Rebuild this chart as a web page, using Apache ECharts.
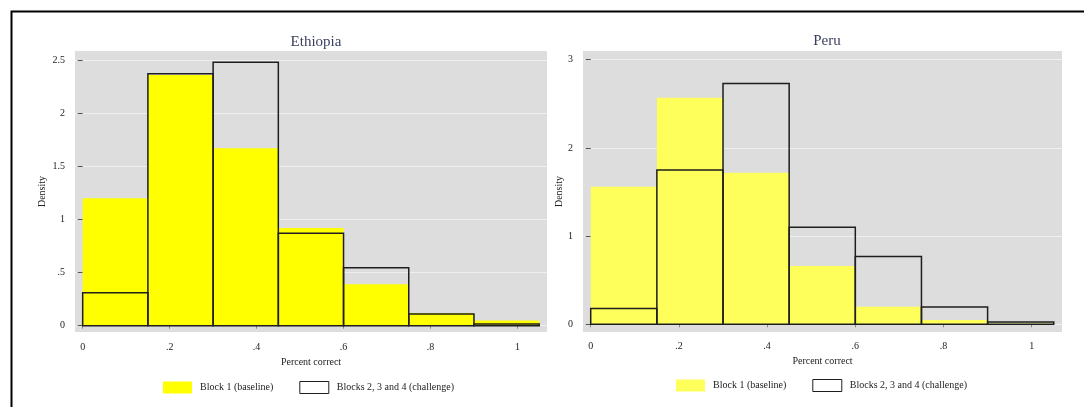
<!DOCTYPE html>
<html>
<head>
<meta charset="utf-8">
<script src="https://cdn.jsdelivr.net/npm/echarts@6/dist/echarts.min.js"></script>
<style>
html,body{margin:0;padding:0;background:#fff;}
#chart{width:1084px;height:407px;}
</style>
</head>
<body>
<div id="chart"></div>
<script>
// ---- data ----
const binEdges = [0, 0.15, 0.30, 0.45, 0.60, 0.75, 0.90, 1.05];
const panelTitles = ['Ethiopia', 'Peru'];
const seriesNames = ['Block 1 (baseline)', 'Blocks 2, 3 and 4 (challenge)'];
const xTickValues = [0, 0.2, 0.4, 0.6, 0.8, 1];
const xTickLabels = ['0', '.2', '.4', '.6', '.8', '1'];
const ethiopiaYTicks = [0, 0.5, 1, 1.5, 2, 2.5];
const ethiopiaYLabels = ['0', '.5', '1', '1.5', '2', '2.5'];
const peruYTicks = [0, 1, 2, 3];
const peruYLabels = ['0', '1', '2', '3'];
const ethiopiaBaseline = [1.20, 2.36, 1.67, 0.92, 0.39, 0.12, 0.05];
const ethiopiaChallenge = [0.31, 2.37, 2.48, 0.87, 0.545, 0.11, 0.016];
const peruBaseline = [1.56, 2.57, 1.72, 0.66, 0.20, 0.05, 0.01];
const peruChallenge = [0.18, 1.75, 2.73, 1.10, 0.77, 0.196, 0.026];

// ---- styles ----
const FONT = "'Liberation Serif', 'DejaVu Serif', serif";
const YELLOW_E = '#ffff00';
const YELLOW_P = '#ffff5c';
const BG = '#dddddd';

function bins(values) {
  return values.map((v, i) => [binEdges[i], binEdges[i + 1], v]);
}
function hist(name, gi, values, fill, outline) {
  return {
    name: name, type: 'custom', xAxisIndex: gi, yAxisIndex: gi,
    data: bins(values), encode: { x: [0, 1], y: 2 },
    itemStyle: { color: outline ? 'none' : fill },
    z: outline ? 3 : 2,
    renderItem: function (params, api) {
      const p0 = api.coord([api.value(0), api.value(2)]);
      const p1 = api.coord([api.value(1), 0]);
      return {
        type: 'rect',
        shape: { x: p0[0], y: p0[1], width: p1[0] - p0[0], height: p1[1] - p0[1] },
        style: outline
          ? { fill: 'none', stroke: '#1e1e1e', lineWidth: 1.5 }
          : { fill: fill }
      };
    }
  };
}
function xAxis(gi, min, max, labelMargin, nameGap) {
  return {
    type: 'value', gridIndex: gi, min: min, max: max, offset: 2,
    name: 'Percent correct', nameLocation: 'middle', nameGap: nameGap,
    nameTextStyle: { fontFamily: FONT, fontSize: 10, color: '#222' },
    axisLine: { show: false },
    axisTick: { show: true, length: 3, customValues: xTickValues, lineStyle: { color: '#888' } },
    axisLabel: {
      customValues: xTickValues, margin: labelMargin, fontFamily: FONT, fontSize: 10, color: '#222',
      formatter: v => xTickLabels[xTickValues.indexOf(+v.toFixed(2))] ?? ''
    },
    splitLine: { show: false }
  };
}
function yAxis(gi, min, max, ticks, labels, offset, labelMargin, nameGap) {
  return {
    type: 'value', gridIndex: gi, min: min, max: max, offset: offset,
    name: 'Density', nameLocation: 'middle', nameGap: nameGap,
    nameTextStyle: { fontFamily: FONT, fontSize: 10, color: '#222' },
    axisLine: { show: false },
    axisTick: { show: true, length: 5, customValues: ticks, lineStyle: { color: '#555' } },
    axisLabel: {
      customValues: ticks, margin: labelMargin, fontFamily: FONT, fontSize: 10, color: '#222',
      formatter: v => labels[ticks.indexOf(+v.toFixed(2))] ?? ''
    },
    splitLine: { show: true, lineStyle: { color: '#efefef', width: 1 } }
  };
}

const chart = echarts.init(document.getElementById('chart'), null, { renderer: 'canvas' });
chart.setOption({
  backgroundColor: '#ffffff',
  animation: false,
  graphic: [{
    type: 'rect', silent: true, z: 100,
    shape: { x: 11.5, y: 11.5, width: 1100, height: 420 },
    style: { fill: 'none', stroke: '#000', lineWidth: 2 }
  }],
  title: [
    { text: panelTitles[0], left: 311, top: 30, textAlign: 'center',
      textStyle: { fontFamily: FONT, fontSize: 15, fontWeight: 'normal', color: '#3a3f5e' } },
    { text: panelTitles[1], left: 822, top: 29, textAlign: 'center',
      textStyle: { fontFamily: FONT, fontSize: 15, fontWeight: 'normal', color: '#3a3f5e' } }
  ],
  grid: [
    { left: 75, top: 51, width: 472, height: 281, show: true, backgroundColor: BG, borderWidth: 0 },
    { left: 583, top: 51, width: 479, height: 281, show: true, backgroundColor: BG, borderWidth: 0 }
  ],
  xAxis: [
    xAxis(0, -0.0177, 1.068, 8, 20),
    xAxis(1, -0.0175, 1.0687, 7, 18)
  ],
  yAxis: [
    yAxis(0, -0.059, 2.585, ethiopiaYTicks, ethiopiaYLabels, 2, 8, 26),
    yAxis(1, -0.087, 3.099, peruYTicks, peruYLabels, 1, 9, 17)
  ],
  legend: [
    { left: 158, top: 376, itemWidth: 29, itemHeight: 12, itemGap: 26, icon: 'rect',
      selectedMode: false,
      textStyle: { fontFamily: FONT, fontSize: 10, color: '#222', padding: [0, 0, 0, 3] },
      data: [
        { name: seriesNames[0], itemStyle: { color: YELLOW_E, borderWidth: 0 } },
        { name: seriesNames[1], itemStyle: { color: '#ffffff', borderColor: '#1e1e1e', borderWidth: 1 } }
      ] },
    { left: 671, top: 374, itemWidth: 29, itemHeight: 12, itemGap: 26, icon: 'rect',
      selectedMode: false,
      textStyle: { fontFamily: FONT, fontSize: 10, color: '#222', padding: [0, 0, 0, 3] },
      data: [
        { name: seriesNames[0], itemStyle: { color: YELLOW_P, borderWidth: 0 } },
        { name: seriesNames[1], itemStyle: { color: '#ffffff', borderColor: '#1e1e1e', borderWidth: 1 } }
      ] }
  ],
  series: [
    hist(seriesNames[0], 0, ethiopiaBaseline, YELLOW_E, false),
    hist(seriesNames[1], 0, ethiopiaChallenge, null, true),
    hist(seriesNames[0], 1, peruBaseline, YELLOW_P, false),
    hist(seriesNames[1], 1, peruChallenge, null, true)
  ]
});
</script>
</body>
</html>
